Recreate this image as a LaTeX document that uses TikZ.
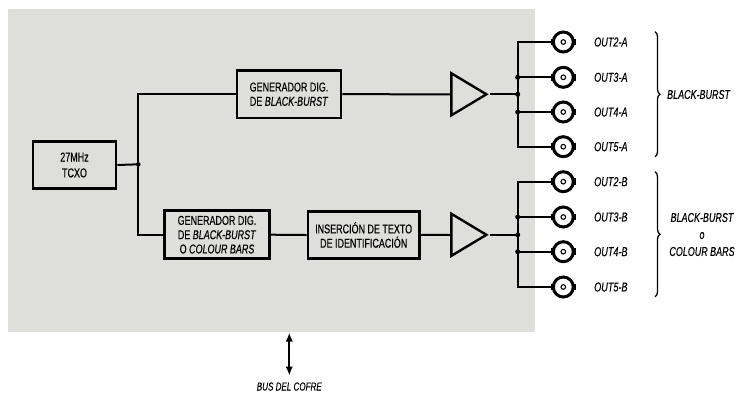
\documentclass[tikz,border=0pt]{standalone}
\usepackage{fontspec}
\setmainfont{Liberation Sans}[FakeStretch=0.7,FakeBold=0.3]
\usetikzlibrary{arrows.meta,decorations.pathreplacing,shapes.geometric}
\definecolor{panel}{RGB}{222,222,218}
\begin{document}
\begin{tikzpicture}[x=1pt,y=-1pt,
  blk/.style={draw,line width=2.6pt,fill=panel,align=center,inner sep=0pt,
    font=\fontsize{12.8}{14.3}\selectfont},
  wire/.style={line width=2pt},
  amp/.style={draw,line width=2.4pt,fill=panel,isosceles triangle,
    isosceles triangle stretches=true,minimum height=35pt,minimum width=42pt,
    inner sep=0pt,anchor=lower side},
  bnc/.style={draw,circle,line width=3pt,fill=white,minimum size=20pt,inner sep=0pt},
  tab/.style={fill=black,minimum width=2.6pt,minimum height=6.5pt,inner sep=0pt},
  jdot/.style={fill=black,circle,minimum size=5pt,inner sep=0pt},
  outlbl/.style={anchor=west,inner sep=0pt,font=\fontsize{13}{13}\selectfont\itshape},
  brc/.style={decorate,decoration={brace,amplitude=5pt},line width=1.3pt},
  brlbl/.style={align=center,inner sep=0pt,font=\fontsize{12.8}{17}\selectfont\itshape},
  bidir/.style={{Latex[length=9pt,width=7.5pt]}-{Latex[length=9pt,width=7.5pt]},line width=2pt}
]
\useasboundingbox (0,0) rectangle (736,392);
\fill[panel] (8,9.3) rectangle (535,331.7);

% blocks
\node[blk,minimum width=83pt,minimum height=47.5pt] (tcxo) at (74.5,165) {27MHz\\[1.5pt]TCXO};
\node[blk,minimum width=104pt,minimum height=47.7pt] (gen1) at (289,94.2) {GENERADOR DIG.\\DE \textit{BLACK-BURST}};
\node[blk,minimum width=104.8pt,minimum height=48pt] (gen2) at (217,234.7) {GENERADOR DIG.\\DE \textit{BLACK-BURST}\\O \textit{COLOUR BARS}};
\node[blk,minimum width=111.4pt,minimum height=47.5pt] (ins) at (363.7,235) {INSERCIÓN DE TEXTO\\DE IDENTIFICACIÓN};

% amplifiers
\node[amp] (amp1) at (450.2,94.3) {};
\node[amp] (amp2) at (450.2,234.8) {};

% junction
\coordinate (j0) at (138.3,164.3);
\node[jdot,minimum size=4.5pt] (jd0) at (j0) {};
\draw[wire] (tcxo.east) -- (j0);
\draw[wire] (gen1.west) -| (j0) |- (gen2.west);
\draw[wire] (gen1.east) -- (amp1.lower side);
\draw[wire] (gen2.east) -- (ins.west);
\draw[wire] (ins.east) -- (amp2.lower side);

% output buses
\coordinate (bx) at (517.7,0);
\foreach \g/\ya/\yb/\yc/\yd/\amp in {A/42/77.3/112/146.7/amp1,B/181.7/217/251.7/287/amp2}{
  \node[bnc] (c1\g) at (563.3,\ya) {};
  \node[bnc] (c2\g) at (563.3,\yb) {};
  \node[bnc] (c3\g) at (563.3,\yc) {};
  \node[bnc] (c4\g) at (563.3,\yd) {};
  \foreach \k in {1,2,3,4}{
    \node[tab] (tl\k\g) at (c\k\g.west) {};
    \node[tab] (tr\k\g) at (c\k\g.east) {};
    \node[draw,circle,line width=1.1pt,minimum size=4.6pt,inner sep=0pt] (ci\k\g) at (c\k\g.center) {};
  }
  \draw[wire] (c1\g.west) -- (c1\g.west -| bx) -- (c4\g.west -| bx) -- (c4\g.west);
  \draw[wire] (c2\g.west -| bx) -- (c2\g.west);
  \draw[wire] (c3\g.west -| bx) -- (c3\g.west);
  \draw[wire] (\amp.apex) -- (\amp.apex -| bx);
  \node[jdot] (d2\g) at (c2\g.west -| bx) {};
  \node[jdot] (d3\g) at (c3\g.west -| bx) {};
  \node[jdot] (dm\g) at (\amp.apex -| bx) {};
  \node[outlbl] (l1\g) at (594,\ya) {OUT2-\g};
  \node[outlbl] (l2\g) at (594,\yb) {OUT3-\g};
  \node[outlbl] (l3\g) at (594,\yc) {OUT4-\g};
  \node[outlbl] (l4\g) at (594,\yd) {OUT5-\g};
}

% braces
\coordinate (bA1) at (655,31.7);
\coordinate (bA2) at (655,156.7);
\coordinate (bB1) at (655,171.7);
\coordinate (bB2) at (655,296.7);
\draw[brc] (bA1) -- (bA2);
\draw[brc] (bB1) -- (bB2);
\node[brlbl,anchor=west] (blA) at (667,94.5) {BLACK-BURST};
\node[brlbl] (blB) at (702,234.5) {BLACK-BURST\\o\\COLOUR BARS};

% bus
\coordinate (busT) at (289.3,332.7);
\coordinate (busB) at (289.3,375.5);
\draw[bidir] (busT) -- (busB);
\node[anchor=base,inner sep=0pt,font=\fontsize{11.5}{12}\selectfont\itshape] (bus) at (289.3,390.5) {BUS DEL COFRE};
\end{tikzpicture}
\end{document}
